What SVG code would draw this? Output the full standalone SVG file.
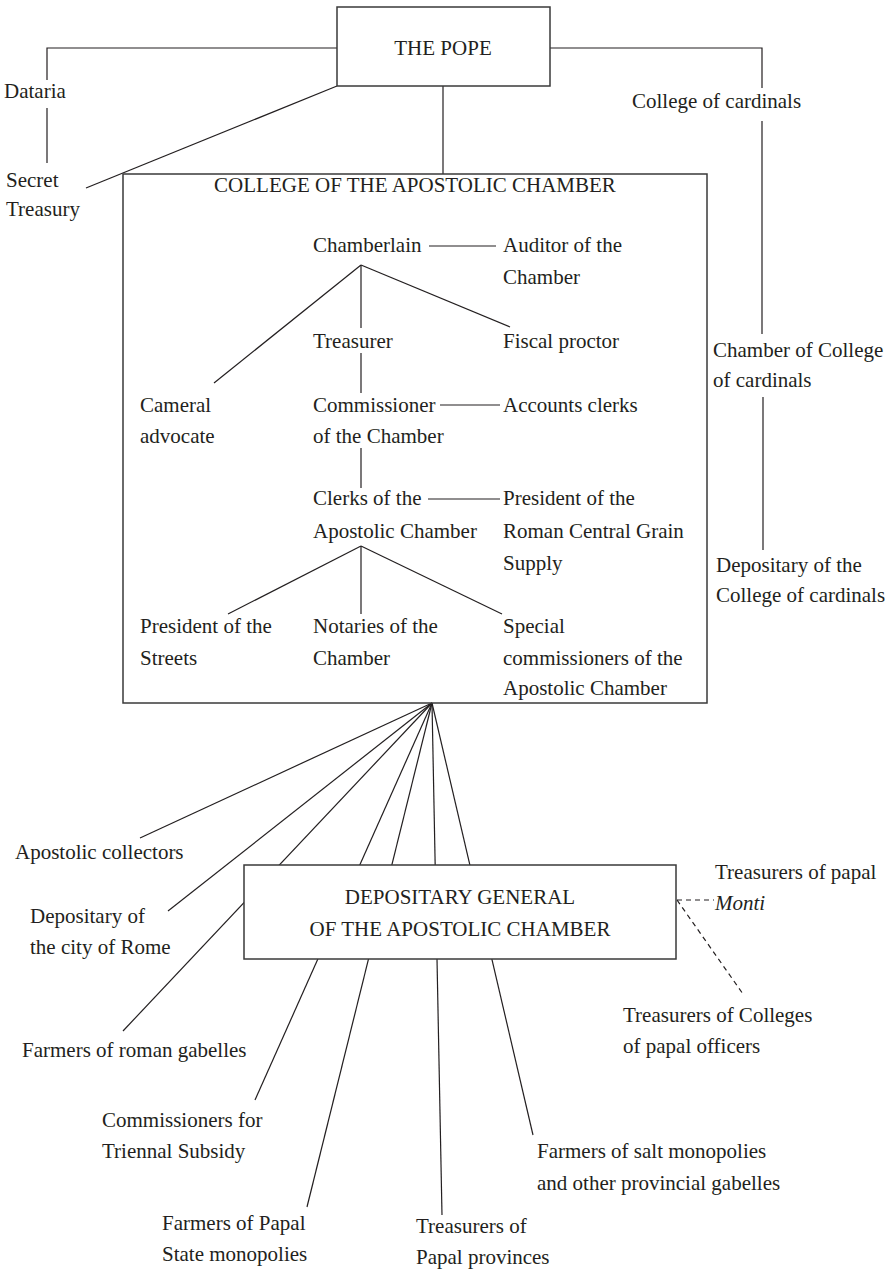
<svg xmlns="http://www.w3.org/2000/svg" width="895" height="1270" viewBox="0 0 895 1270">
<style>
text{font-family:"Liberation Serif","Times New Roman",serif;font-size:21px;fill:#231f20}
.c{text-anchor:middle}
.box{fill:#fff;stroke:#3a3a3a;stroke-width:1.5}
.open{fill:none;stroke:#3a3a3a;stroke-width:1.5}
#connectors line,#connectors polyline{stroke:#231f20;stroke-width:1.2;fill:none}
#connectors .dash{stroke-dasharray:5 4}
</style>
<rect width="895" height="1270" fill="#fff"/>
<g id="connectors">
<polyline points="337,48 47,48 47,80"/>
<line x1="47" y1="108" x2="47" y2="163"/>
<line x1="337" y1="86" x2="86" y2="188"/>
<line x1="443" y1="86" x2="443" y2="174"/>
<polyline points="550,48 762,48 762,88"/>
<line x1="762" y1="121" x2="762" y2="334"/>
<line x1="763" y1="397" x2="763" y2="550"/>
<line x1="429" y1="246" x2="496" y2="246"/>
<line x1="361" y1="265" x2="214" y2="383"/>
<line x1="361" y1="265" x2="361" y2="328"/>
<line x1="361" y1="265" x2="510" y2="327"/>
<line x1="361" y1="353" x2="361" y2="393"/>
<line x1="440" y1="405" x2="500" y2="405"/>
<line x1="361" y1="448" x2="361" y2="488"/>
<line x1="428" y1="499" x2="500" y2="499"/>
<line x1="361" y1="546" x2="228" y2="614"/>
<line x1="361" y1="546" x2="361" y2="614"/>
<line x1="361" y1="546" x2="502" y2="614"/>
<line x1="432" y1="703" x2="140" y2="838"/>
<line x1="432" y1="703" x2="168" y2="911"/>
<line x1="432" y1="703" x2="123" y2="1031"/>
<line x1="432" y1="703" x2="255" y2="1100"/>
<line x1="432" y1="703" x2="307" y2="1207"/>
<line x1="432" y1="703" x2="442" y2="1215"/>
<line x1="432" y1="703" x2="533" y2="1135"/>
<line class="dash" x1="677" y1="900" x2="714" y2="900"/>
<line class="dash" x1="677" y1="900" x2="743" y2="994"/>
</g>
<g id="pope"><rect class="box" x="337" y="7" width="213" height="79"/><text class="c" x="443" y="55">THE POPE</text></g>
<g id="dataria"><text x="4" y="98">Dataria</text></g>
<g id="secret-treasury"><text x="6" y="187">Secret</text><text x="6" y="216">Treasury</text></g>
<g id="college-cardinals"><text x="632" y="108">College of cardinals</text></g>
<g id="chamber-college-cardinals"><text x="713" y="357">Chamber of College</text><text x="713" y="387">of cardinals</text></g>
<g id="depositary-college-cardinals"><text x="716" y="572">Depositary of the</text><text x="716" y="602">College of cardinals</text></g>
<g id="apostolic-chamber"><rect class="open" x="123" y="174" width="584" height="529"/><text class="c" x="415" y="192">COLLEGE OF THE APOSTOLIC CHAMBER</text></g>
<g id="chamberlain"><text x="313" y="252">Chamberlain</text></g>
<g id="auditor"><text x="503" y="252">Auditor of the</text><text x="503" y="284">Chamber</text></g>
<g id="treasurer"><text x="313" y="348">Treasurer</text></g>
<g id="fiscal-proctor"><text x="503" y="348">Fiscal proctor</text></g>
<g id="cameral-advocate"><text x="140" y="412">Cameral</text><text x="140" y="443">advocate</text></g>
<g id="commissioner"><text x="313" y="412">Commissioner</text><text x="313" y="443">of the Chamber</text></g>
<g id="accounts-clerks"><text x="503" y="412">Accounts clerks</text></g>
<g id="clerks"><text x="313" y="505">Clerks of the</text><text x="313" y="538">Apostolic Chamber</text></g>
<g id="grain-supply"><text x="503" y="505">President of the</text><text x="503" y="538">Roman Central Grain</text><text x="503" y="570">Supply</text></g>
<g id="streets"><text x="140" y="633">President of the</text><text x="140" y="665">Streets</text></g>
<g id="notaries"><text x="313" y="633">Notaries of the</text><text x="313" y="665">Chamber</text></g>
<g id="special-commissioners"><text x="503" y="633">Special</text><text x="503" y="665">commissioners of the</text><text x="503" y="695">Apostolic Chamber</text></g>
<g id="depositary-general"><rect class="box" x="244" y="865" width="432" height="94"/><text class="c" x="460" y="904">DEPOSITARY GENERAL</text><text class="c" x="460" y="936">OF THE APOSTOLIC CHAMBER</text></g>
<g id="apostolic-collectors"><text x="15" y="859">Apostolic collectors</text></g>
<g id="depositary-rome"><text x="30" y="923">Depositary of</text><text x="30" y="954">the city of Rome</text></g>
<g id="roman-gabelles"><text x="22" y="1057">Farmers of roman gabelles</text></g>
<g id="triennal-subsidy"><text x="102" y="1127">Commissioners for</text><text x="102" y="1158">Triennal Subsidy</text></g>
<g id="state-monopolies"><text x="162" y="1230">Farmers of Papal</text><text x="162" y="1261">State monopolies</text></g>
<g id="papal-provinces"><text x="416" y="1233">Treasurers of</text><text x="416" y="1264">Papal provinces</text></g>
<g id="salt-monopolies"><text x="537" y="1158">Farmers of salt monopolies</text><text x="537" y="1190">and other provincial gabelles</text></g>
<g id="monti"><text x="715" y="879">Treasurers of papal</text><text x="715" y="910" font-style="italic">Monti</text></g>
<g id="colleges-officers"><text x="623" y="1022">Treasurers of Colleges</text><text x="623" y="1053">of papal officers</text></g>
</svg>
